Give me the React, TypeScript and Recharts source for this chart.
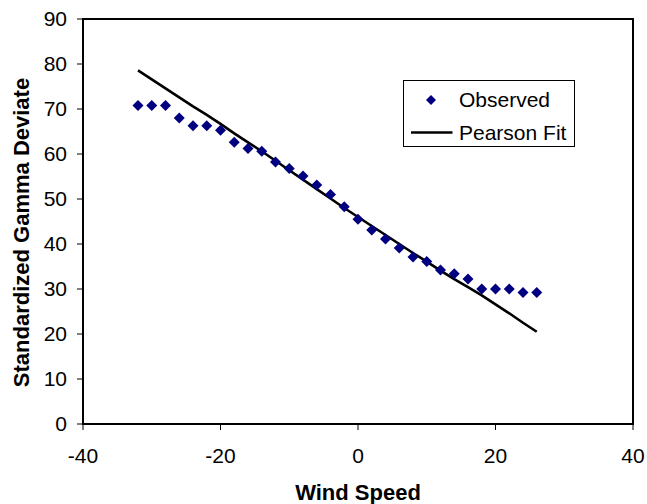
import { ComposedChart, Line, ReferenceArea, Scatter, XAxis, YAxis } from 'recharts'

const windSpeed = [
  -32, -30, -28, -26, -24, -22, -20, -18, -16, -14, -12, -10, -8, -6, -4, -2,
  0, 2, 4, 6, 8, 10, 12, 14, 16, 18, 20, 22, 24, 26,
]
const observed = [
  70.8, 70.8, 70.8, 68.0, 66.3, 66.3, 65.3, 62.6, 61.2, 60.6, 58.2, 56.8, 55.1,
  53.1, 51.0, 48.3, 45.5, 43.1, 41.1, 39.1, 37.1, 36.1, 34.2, 33.4, 32.2, 30.0,
  30.0, 30.0, 29.2, 29.2,
]
const pearsonFit = [
  78.6, 76.6, 74.6, 72.6, 70.6, 68.7, 66.7, 64.6, 62.6, 60.6, 58.5, 56.4, 54.3,
  52.2, 50.1, 48.0, 46.0, 44.0, 42.0, 40.0, 38.0, 36.1, 34.1, 32.2, 30.4, 28.6,
  26.6, 24.6, 22.5, 20.5,
]
const xTicks = [-40, -20, 0, 20, 40]
const yTicks = [0, 10, 20, 30, 40, 50, 60, 70, 80, 90]

const data = windSpeed.map((x, i) => ({
  x,
  observed: observed[i],
  fit: pearsonFit[i],
}))

const NAVY = '#000080'
const FONT = '"Liberation Sans", Arial, sans-serif'

function Diamond(props: any) {
  const { cx, cy } = props
  const r = 5.5
  return (
    <polygon
      points={`${cx},${cy - r} ${cx + r},${cy} ${cx},${cy + r} ${cx - r},${cy}`}
      fill={NAVY}
    />
  )
}

function YTitle(props: any) {
  const { viewBox } = props
  const x = viewBox.x + 21
  const y = viewBox.y + viewBox.height / 2 + 11
  return (
    <text
      x={x}
      y={y}
      transform={`rotate(-90 ${x} ${y})`}
      textAnchor="middle"
      dominantBaseline="central"
      fontFamily={FONT}
      fontWeight="bold"
      fontSize={22}
      fill="#000"
    >
      Standardized Gamma Deviate
    </text>
  )
}

function XTitle(props: any) {
  const { viewBox } = props
  return (
    <text
      x={viewBox.x + viewBox.width / 2}
      y={viewBox.y + 68}
      textAnchor="middle"
      dominantBaseline="central"
      fontFamily={FONT}
      fontWeight="bold"
      fontSize={22}
      fill="#000"
    >
      Wind Speed
    </text>
  )
}

export default function App() {
  const tickStyle = { fill: '#000', fontSize: 21, fontFamily: FONT }
  return (
    <div
      style={{
        position: 'absolute',
        left: 0,
        top: 0,
        width: 647,
        height: 504,
        background: '#fff',
      }}
    >
      <ComposedChart
        width={647}
        height={504}
        data={data}
        margin={{ top: 19, right: 14, left: 0, bottom: 0 }}
      >
        <ReferenceArea
          x1={-40}
          x2={40}
          y1={0}
          y2={90}
          fill="none"
          fillOpacity={0}
          stroke="#000"
          strokeWidth={2}
        />
        <XAxis
          type="number"
          dataKey="x"
          domain={[-40, 40]}
          ticks={xTicks}
          height={80}
          tick={tickStyle}
          tickSize={6}
          tickMargin={18}
          tickLine={{ stroke: '#000' }}
          axisLine={{ stroke: '#000', strokeWidth: 2 }}
          label={<XTitle />}
        />
        <YAxis
          type="number"
          domain={[0, 90]}
          ticks={yTicks}
          width={83}
          tick={tickStyle}
          tickSize={6}
          tickMargin={10}
          tickLine={{ stroke: '#000' }}
          axisLine={{ stroke: '#000', strokeWidth: 2 }}
          label={<YTitle />}
        />
        <Scatter
          dataKey="observed"
          shape={<Diamond />}
          isAnimationActive={false}
        />
        <Line
          type="linear"
          dataKey="fit"
          stroke="#000"
          strokeWidth={2.6}
          dot={false}
          activeDot={false}
          isAnimationActive={false}
        />
      </ComposedChart>
      <div
        style={{
          position: 'absolute',
          left: 403,
          top: 80,
          width: 170,
          height: 65,
          border: '1px solid #000',
          background: '#fff',
          fontFamily: FONT,
          fontSize: 21,
          color: '#000',
        }}
      >
        <div style={{ position: 'absolute', left: 0, top: 2, height: 33, display: 'flex', alignItems: 'center' }}>
          <svg width={55} height={33} style={{ display: 'block' }}>
            <polygon points="27,12 32,17 27,22 22,17" fill={NAVY} />
          </svg>
          <span>Observed</span>
        </div>
        <div style={{ position: 'absolute', left: 0, top: 35, height: 33, display: 'flex', alignItems: 'center' }}>
          <svg width={55} height={33} style={{ display: 'block' }}>
            <line x1={7} y1={16.5} x2={48.5} y2={16.5} stroke="#000" strokeWidth={2.6} />
          </svg>
          <span>Pearson Fit</span>
        </div>
      </div>
    </div>
  )
}
